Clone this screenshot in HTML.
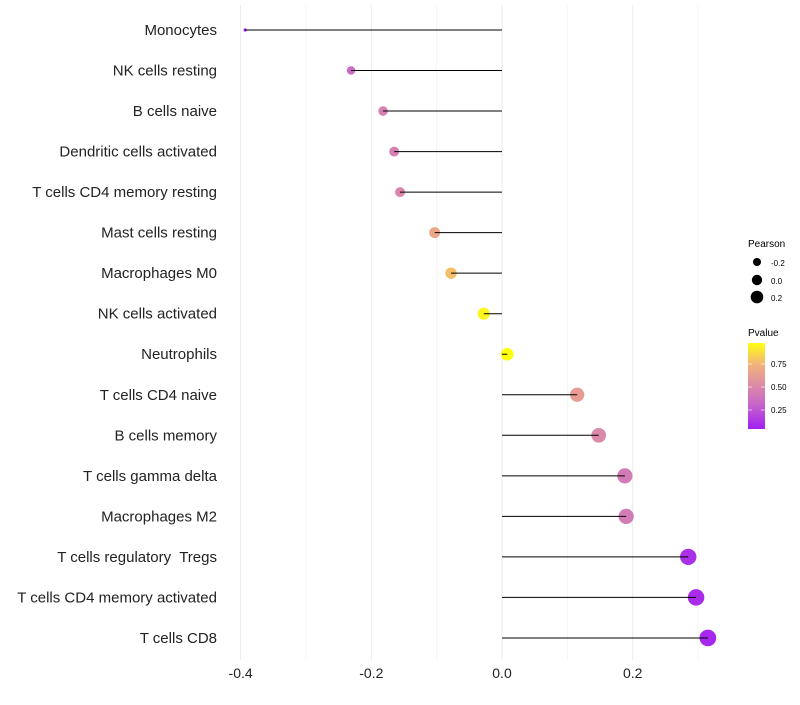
<!DOCTYPE html>
<html><head><meta charset="utf-8"><style>
body{margin:0;background:#fff;font-family:"Liberation Sans",sans-serif}
text{white-space:pre}
</style></head><body>
<svg id="chart" width="800" height="700" xmlns="http://www.w3.org/2000/svg" xml:space="preserve">
<defs><linearGradient id="pg" x1="0" y1="1" x2="0" y2="0">
<stop offset="0" stop-color="#a21ff2"/><stop offset="0.3" stop-color="#c869c8"/>
<stop offset="0.5" stop-color="#dc8aa8"/><stop offset="0.75" stop-color="#f2b27c"/>
<stop offset="1" stop-color="#ffff10"/></linearGradient></defs>
<g id="grid"></g><g id="marks"></g><g id="labels"></g>
<g font-size="10">
<text x="748" y="247">Pearson</text>
<circle cx="757" cy="262" r="4"/>
<text x="771" y="266" font-size="8">-0.2</text>
<circle cx="757" cy="280" r="5.2"/>
<text x="771" y="284" font-size="8">0.0</text>
<circle cx="757" cy="297" r="6.3"/>
<text x="771" y="301" font-size="8">0.2</text>
<text x="748" y="336">Pvalue</text>
<rect x="748" y="343" width="17" height="86" fill="url(#pg)"/>
<g stroke="#fff" stroke-width="0.6"><line x1="748" y1="364" x2="752" y2="364"/><line x1="761" y1="364" x2="765" y2="364"/><line x1="748" y1="387" x2="752" y2="387"/><line x1="761" y1="387" x2="765" y2="387"/><line x1="748" y1="410" x2="752" y2="410"/><line x1="761" y1="410" x2="765" y2="410"/></g>
<text x="771" y="367" font-size="8">0.75</text>
<text x="771" y="390" font-size="8">0.50</text>
<text x="771" y="413" font-size="8">0.25</text>
</g>
</svg>
<script>
const categories=["Monocytes","NK cells resting","B cells naive","Dendritic cells activated","T cells CD4 memory resting","Mast cells resting","Macrophages M0","NK cells activated","Neutrophils","T cells CD4 naive","B cells memory","T cells gamma delta","Macrophages M2","T cells regulatory  Tregs","T cells CD4 memory activated","T cells CD8"];
const pearson=[-0.393,-0.231,-0.182,-0.165,-0.156,-0.103,-0.078,-0.028,0.008,0.115,0.148,0.188,0.190,0.285,0.297,0.315];
const pvalues=[0.03,0.33,0.45,0.45,0.48,0.68,0.78,0.95,0.98,0.62,0.5,0.42,0.42,0.1,0.08,0.06];
const xTicks=[-0.4,-0.2,0.0,0.2];
const xMinor=[-0.3,-0.1,0.1,0.3];
const NS="http://www.w3.org/2000/svg";
const x=v=>502+v*653.5;
const y=i=>30+i*40.53;
const rad=v=>Math.sqrt(Math.max(0.3,(v+0.42)*95));
function col(p){const st=[[0,[162,31,242]],[0.3,[200,105,200]],[0.5,[220,138,168]],[0.75,[242,178,124]],[1,[255,255,16]]];
 const t=(p-0.03)/0.95;for(let k=1;k<st.length;k++){if(t<=st[k][0]||k==st.length-1){const a=st[k-1],b=st[k];const f=Math.max(0,Math.min(1,(t-a[0])/(b[0]-a[0])));return `rgb(${a[1].map((c,j)=>Math.round(c+(b[1][j]-c)*f)).join(',')})`;}}}
function mk(tag,at,parent){const e=document.createElementNS(NS,tag);for(const k in at)e.setAttribute(k,at[k]);parent.appendChild(e);return e;}
const G=document.getElementById('grid'),M=document.getElementById('marks'),L=document.getElementById('labels');
xMinor.forEach(v=>{const l=mk('line',{x1:x(v),x2:x(v),y1:5,y2:660,stroke:'#f4f4f4','stroke-width':0.8},G);

});
xTicks.forEach(v=>{const l=mk('line',{x1:x(v),x2:x(v),y1:5,y2:660,stroke:'#ebebeb','stroke-width':1},G);


const t=mk('text',{x:x(v),y:678,'text-anchor':'middle','font-size':14,fill:'#222'},L);t.textContent=v.toFixed(1);

});
categories.forEach((c,i)=>{
const t=mk('text',{x:217,y:y(i)+5,'text-anchor':'end','font-size':15,fill:'#222'},L);t.textContent=c;


const p=mk('circle',{cx:x(pearson[i]),cy:y(i),r:rad(pearson[i]),fill:col(pvalues[i])},M);


const s=mk('line',{x1:x(0),x2:x(pearson[i]),y1:y(i),y2:y(i),stroke:'#000','stroke-width':1},M);


});
</script>
</body></html>
